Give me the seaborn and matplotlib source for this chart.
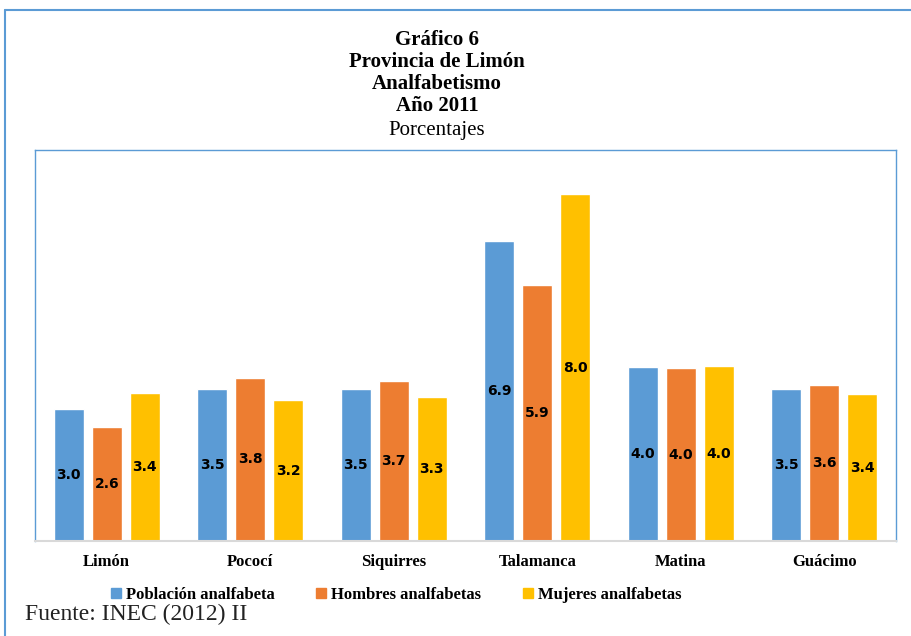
import pandas as pd
import seaborn as sns
import matplotlib.pyplot as plt
from matplotlib.patches import Patch
from matplotlib.lines import Line2D

cantones = ["Limón", "Pococí", "Siquirres", "Talamanca", "Matina", "Guácimo"]
series = ["Población analfabeta", "Hombres analfabetas", "Mujeres analfabetas"]
poblacion = [3.04, 3.5, 3.5, 6.9, 4.0, 3.5]
hombres = [2.63, 3.76, 3.68, 5.9, 3.98, 3.6]
mujeres = [3.4, 3.24, 3.31, 7.98, 4.02, 3.38]
colores = ["#5B9BD5", "#ED7D31", "#FFC000"]

df = pd.DataFrame({"canton": cantones * 3,
                   "serie": [s for s in series for _ in cantones],
                   "valor": poblacion + hombres + mujeres})

sns.set_style("white")
serif = "Liberation Serif"

fig = plt.figure(figsize=(9.12, 6.36), dpi=100)
ax = fig.add_axes([35/912, 1 - 541/636, (896 - 35)/912, (541 - 150)/636])

sns.barplot(data=df, x="canton", y="valor", hue="serie", hue_order=series,
            palette=colores, width=0.795, gap=0.21, saturation=1,
            legend=False, ax=ax)

for c in ax.containers:
    ax.bar_label(c, label_type="center", fmt="%.1f", fontweight="bold",
                 fontsize=10, family="DejaVu Sans", color="black")

ax.set_ylim(0, 9)
ax.set_xlim(-0.5, 5.5)
ax.set_xlabel("")
ax.set_ylabel("")
ax.set_yticks([])
ax.tick_params(axis="x", length=0, pad=9, labelcolor="black")
for lab in ax.get_xticklabels():
    lab.set_fontfamily(serif)
    lab.set_fontweight("bold")
    lab.set_fontsize(12)

for s in ["left", "top", "right"]:
    ax.spines[s].set_color("#5B9BD5")
    ax.spines[s].set_linewidth(1)
ax.spines["bottom"].set_color("#D9D9D9")
ax.spines["bottom"].set_linewidth(1.5)

titulos = ["Gráfico 6", "Provincia de Limón", "Analfabetismo", "Año 2011"]
for i, t in enumerate(titulos):
    fig.text(437/912, 1 - (40 + 22*i)/636, t, ha="center", va="center",
             family=serif, fontweight="bold", fontsize=15, color="black")
fig.text(437/912, 1 - 131/636, "Porcentajes", ha="center", va="center",
         family=serif, fontsize=15, color="black")

handles = [Patch(facecolor=c, edgecolor=c) for c in colores]
fig.legend(handles, series, loc="center", bbox_to_anchor=(396/912, 1 - 595/636),
           ncol=3, frameon=False, handlelength=0.6, handleheight=0.6,
           handletextpad=0.3, columnspacing=2.5, labelcolor="black",
           prop={"family": serif, "weight": "bold", "size": 12})

fig.text(25/912, 1 - 614/636, "Fuente: INEC (2012) II", ha="left", va="center",
         family=serif, fontsize=17, color="#222222")

# marco exterior
fig.add_artist(Line2D([5/912, 1], [1 - 10/636, 1 - 10/636], color="#5B9BD5", lw=1.5))
fig.add_artist(Line2D([5/912, 5/912], [0, 1 - 10/636], color="#5B9BD5", lw=1.5))

fig.savefig("out.png", dpi=100)
